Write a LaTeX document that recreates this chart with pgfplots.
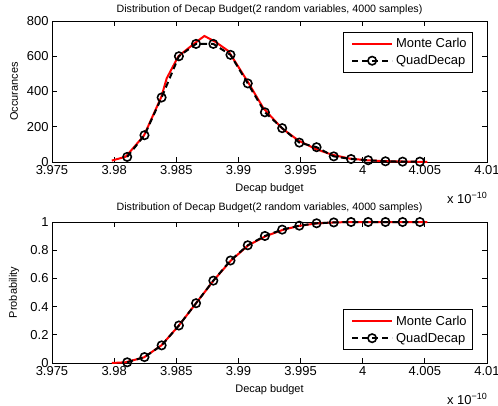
\documentclass[border=0pt]{standalone}
\usepackage{fontspec}
\setmainfont{Liberation Sans}
\usepackage{pgfplots}
\pgfplotsset{compat=1.18}

\newcommand{\tickfont}{\fontsize{13}{13}\selectfont}
\newcommand{\titlefont}{\fontsize{10.7}{10.7}\selectfont}
\newcommand{\labfont}{\fontsize{11}{11}\selectfont}

\pgfplotsset{
  mlaxis/.style={
    scale only axis, width=435bp, height=141bp,
    xmin=3.975, xmax=4.01,
    xtick={3.975,3.98,3.985,3.99,3.995,4,4.005,4.01},
    xticklabels={3.975,3.98,3.985,3.99,3.995,4,4.005,4.01},
    tick align=inside, major tick length=5bp,
    axis line style={line width=0.8bp},
    every tick/.style={line width=0.8bp, black},
    ticklabel style={font=\tickfont},
    title style={font=\titlefont, anchor=center},
    label style={font=\labfont},
    xlabel style={at={(axis description cs:0.5,-0.19)}, anchor=center},
    ylabel style={at={(axis description cs:-0.087,0.5)}, anchor=center},
    /pgf/number format/assume math mode=true,
    clip=false,
    legend cell align=left,
    legend style={draw=black, line width=0.8bp, font=\tickfont,
      inner xsep=3bp, inner ysep=3bp, nodes={inner sep=3bp}},
    legend image code/.code={\path (-5bp,0bp);
      \draw[mark repeat=2,mark phase=2,#1]
      plot coordinates {(0bp,0bp) (20bp,0bp) (40bp,0bp)};},
  },
  mc/.style={red, line width=2bp, no marks},
  qd/.style={black, line width=2bp, dash pattern=on 6bp off 4bp,
    mark=o, mark size=4.2bp, mark options={solid, line width=1.6bp}},
}

\begin{document}
\begin{tikzpicture}
\path[use as bounding box] (0,0) rectangle (498bp,-406bp);

\begin{axis}[mlaxis, at={(52bp,-162bp)}, anchor=south west,
  ymin=0, ymax=800, ytick={0,200,400,600,800},
  yticklabels={0,200,400,600,800},
  title={Distribution of Decap Budget(2 random variables, 4000 samples)},
  title style={at={(axis description cs:0.5,1)}, yshift=5bp},
  xlabel={Decap budget}, ylabel={Occurances},
  legend style={at={(rel axis cs:0.968,0.922)}, anchor=north east}]
\addplot[mc] coordinates {
  (3.97981,8) (3.98093,30) (3.9824,150) (3.9838,370) (3.98423,475)
  (3.98517,600) (3.98646,673) (3.98726,715) (3.98812,683) (3.98919,630)
  (3.9908,450) (3.99201,305) (3.99349,192) (3.99483,122) (3.99617,75)
  (3.9975,42) (3.9989,20) (4.0003,10) (4.0017,5) (4.0031,3) (4.0045,1)
  (4.0052,0)};
\addplot[qd] coordinates {
  (3.98105,29) (3.98244,152) (3.98382,366) (3.98521,600) (3.98659,670)
  (3.98798,670) (3.98936,608) (3.99075,446) (3.99213,282) (3.99352,192)
  (3.99490,110) (3.99629,84) (3.99767,32) (3.99906,17) (4.00044,10)
  (4.00183,4) (4.00321,2) (4.00460,2)};
\legend{Monte Carlo,QuadDecap}
\end{axis}

\begin{axis}[mlaxis, at={(52bp,-363bp)}, anchor=south west,
  ymin=0, ymax=1, ytick={0,0.2,0.4,0.6,0.8,1},
  yticklabels={0,0.2,0.4,0.6,0.8,1},
  title={Distribution of Decap Budget(2 random variables, 4000 samples)},
  title style={at={(axis description cs:0.5,1)}, yshift=8bp},
  xlabel={Decap budget}, ylabel={Probability},
  legend style={at={(rel axis cs:0.968,0.092)}, anchor=south east}]
\addplot[mc] coordinates {
  (3.97981,0) (3.9809,0.005) (3.9824,0.04) (3.9838,0.125) (3.9852,0.265)
  (3.9866,0.425) (3.9880,0.585) (3.9894,0.727) (3.9908,0.835)
  (3.9922,0.9) (3.9936,0.945) (3.9949,0.973) (3.9963,0.99)
  (3.9977,0.997) (3.9991,1) (4.0052,1)};
\addplot[qd] coordinates {
  (3.98105,0.005) (3.98244,0.042) (3.98382,0.125) (3.98521,0.266)
  (3.98659,0.424) (3.98798,0.584) (3.98936,0.727) (3.99075,0.835)
  (3.99213,0.901) (3.99352,0.946) (3.99490,0.974) (3.99629,0.991)
  (3.99767,0.997) (3.99906,1) (4.00044,1) (4.00183,1) (4.00321,1)
  (4.00460,1)};
\legend{Monte Carlo,QuadDecap}
\end{axis}

% exponent labels below each x axis
\node[anchor=east, font=\tickfont, inner sep=0pt] at (487bp,-198bp)
  {x 10\raisebox{5bp}{\fontsize{9}{9}\selectfont −10}};
\node[anchor=east, font=\tickfont, inner sep=0pt] at (487bp,-399bp)
  {x 10\raisebox{5bp}{\fontsize{9}{9}\selectfont −10}};
\end{tikzpicture}
\end{document}
